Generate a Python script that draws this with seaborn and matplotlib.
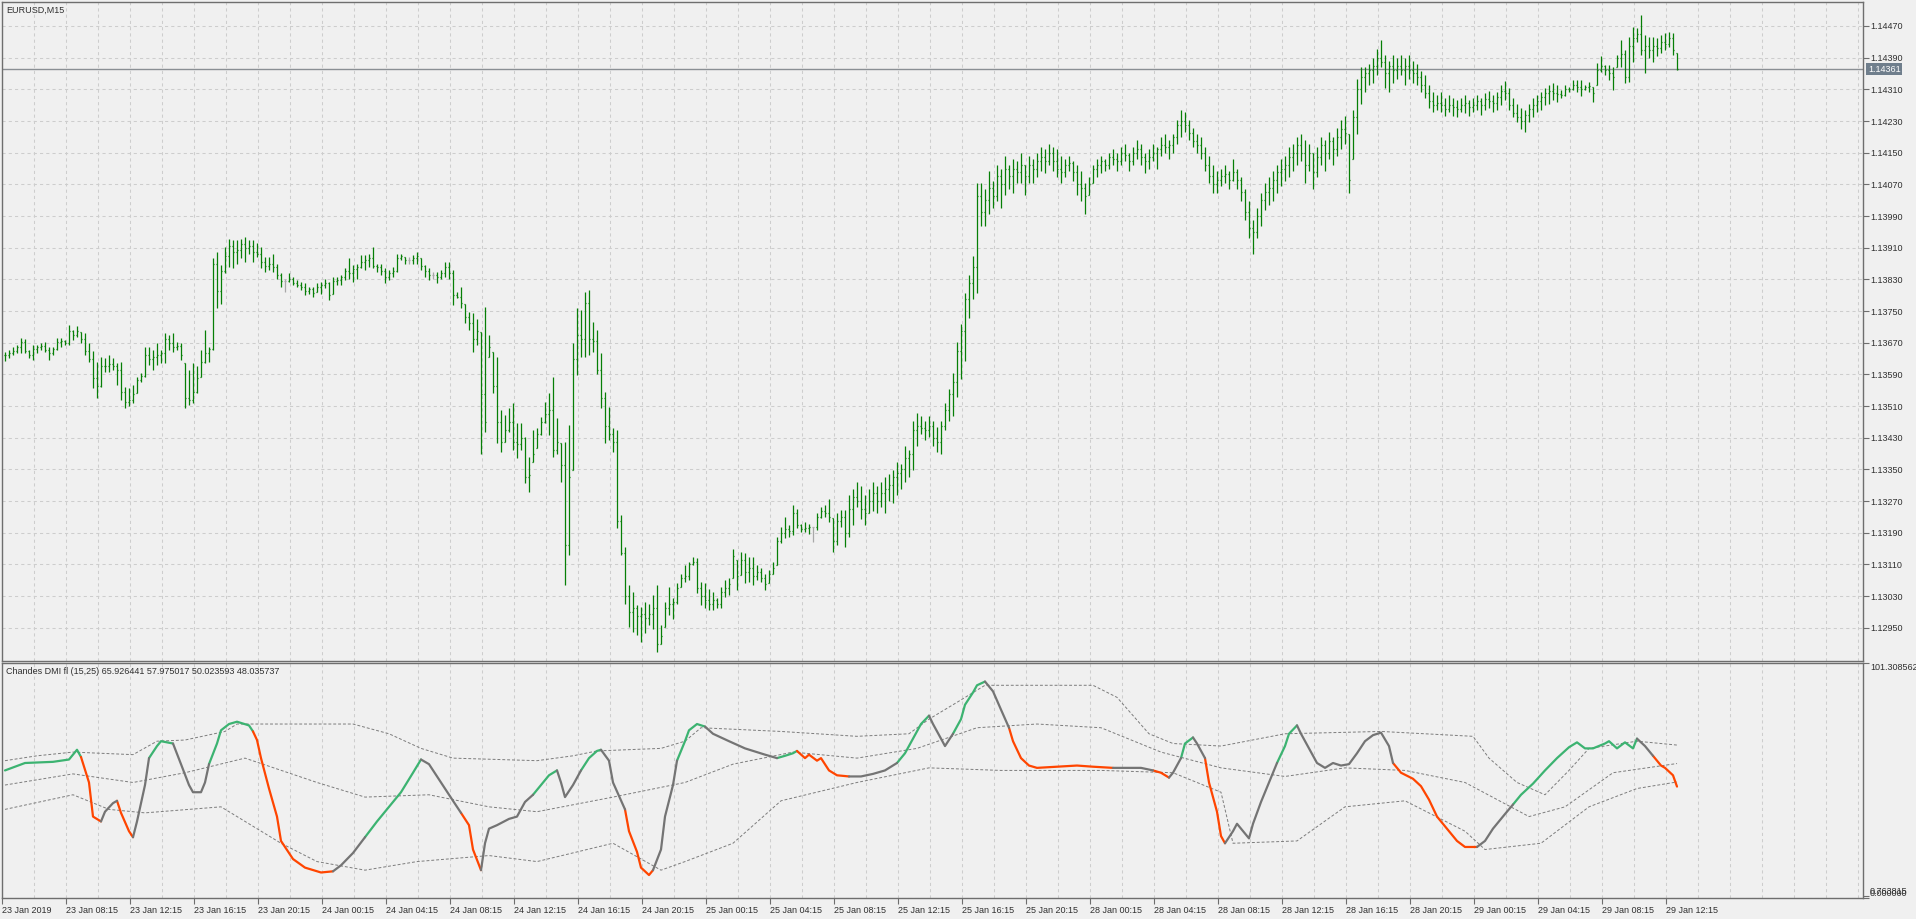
import numpy as np
import pandas as pd
import seaborn as sns
import matplotlib.pyplot as plt
import matplotlib.transforms as mtransforms

# picture size in pixels
W, H = 1916, 919
BG = "#f0f0f0"
BAR_GREEN = "#067f06"
DOJI_GREY = "#a8a8a8"
FRAME = "#6e6e6e"
GRID = "#cdcdcd"
TEXT = "#303030"

# EURUSD M15 bars, prices in points above 1.10000 (3640 -> 1.13640)
HIGH = [
    3647, 3652, 3660, 3664, 3681, 3679, 3652, 3664, 3664, 3670,
    3673, 3660, 3660, 3681, 3681, 3677, 3715, 3702, 3712, 3698,
    3694, 3669, 3648, 3622, 3635, 3631, 3639, 3631, 3618, 3622,
    3559, 3555, 3563, 3584, 3593, 3660, 3660, 3652, 3669, 3652,
    3694, 3690, 3694, 3673, 3669, 3618, 3601, 3618, 3610, 3652,
    3702, 3660, 3883, 3900, 3866, 3912, 3932, 3929, 3929, 3933,
    3938, 3929, 3929, 3921, 3912, 3887, 3887, 3895, 3870, 3845,
    3832, 3845, 3836, 3828, 3824, 3820, 3811, 3811, 3820, 3824,
    3832, 3824, 3836, 3836, 3841, 3858, 3883, 3866, 3870, 3891,
    3891, 3895, 3912, 3870, 3870, 3858, 3853, 3862, 3895, 3895,
    3887, 3887, 3891, 3900, 3883, 3866, 3858, 3849, 3849, 3853,
    3875, 3875, 3853, 3799, 3811, 3769, 3748, 3744, 3731, 3698,
    3761, 3689, 3647, 3635, 3500, 3487, 3504, 3517, 3466, 3466,
    3432, 3382, 3449, 3454, 3483, 3521, 3542, 3584, 3479, 3416,
    3420, 3462, 3668, 3757, 3752, 3799, 3803, 3723, 3702, 3643,
    3546, 3508, 3454, 3449, 3235, 3155, 3058, 3041, 3007, 3003,
    3016, 3011, 3032, 3058, 2957, 3016, 3053, 3024, 3062, 3087,
    3108, 3117, 3129, 3125, 3066, 3062, 3049, 3041, 3024, 3053,
    3070, 3075, 3150, 3121, 3142, 3138, 3129, 3129, 3108, 3100,
    3087, 3096, 3117, 3180, 3205, 3230, 3209, 3261, 3251, 3213,
    3218, 3213, 3205, 3239, 3256, 3260, 3275, 3226, 3239, 3247,
    3247, 3286, 3301, 3317, 3307, 3286, 3301, 3317, 3307, 3317,
    3332, 3338, 3348, 3369, 3363, 3409, 3400, 3471, 3493, 3486,
    3471, 3486, 3471, 3456, 3471, 3517, 3554, 3594, 3672, 3718,
    3795, 3841, 3888, 4073, 4073, 4057, 4104, 4079, 4119, 4110,
    4141, 4119, 4135, 4129, 4150, 4119, 4141, 4135, 4150, 4165,
    4159, 4172, 4165, 4159, 4141, 4135, 4141, 4129, 4119, 4104,
    4073, 4088, 4119, 4135, 4141, 4135, 4150, 4159, 4150, 4165,
    4172, 4150, 4165, 4181, 4172, 4150, 4159, 4172, 4165, 4190,
    4196, 4181, 4196, 4233, 4258, 4252, 4233, 4212, 4196, 4190,
    4165, 4141, 4119, 4104, 4110, 4119, 4104, 4135, 4110, 4088,
    4057, 4027, 3980, 4011, 4048, 4073, 4088, 4104, 4119, 4135,
    4141, 4165, 4172, 4190, 4196, 4181, 4172, 4150, 4165, 4190,
    4181, 4203, 4190, 4212, 4233, 4243, 4196, 4258, 4335, 4366,
    4366, 4375, 4388, 4412, 4434, 4397, 4382, 4397, 4388, 4397,
    4388, 4397, 4382, 4375, 4357, 4345, 4320, 4304, 4295, 4304,
    4289, 4295, 4289, 4283, 4289, 4295, 4283, 4289, 4295, 4289,
    4301, 4307, 4295, 4304, 4320, 4332, 4314, 4289, 4274, 4264,
    4258, 4274, 4289, 4295, 4304, 4314, 4320, 4326, 4320, 4308,
    4321, 4317, 4334, 4334, 4334, 4321, 4329, 4317, 4376, 4393,
    4372, 4372, 4367, 4397, 4435, 4409, 4443, 4468, 4464, 4498,
    4447, 4443, 4443, 4439, 4447, 4452, 4456, 4452, 4401,
]
LOW = [
    3625, 3631, 3639, 3643, 3643, 3645, 3631, 3626, 3643, 3652,
    3647, 3626, 3639, 3652, 3660, 3664, 3664, 3677, 3685, 3669,
    3639, 3622, 3555, 3530, 3559, 3597, 3597, 3601, 3563, 3525,
    3504, 3509, 3517, 3542, 3572, 3584, 3614, 3601, 3614, 3618,
    3618, 3652, 3647, 3652, 3626, 3504, 3513, 3517, 3542, 3584,
    3618, 3622, 3651, 3757, 3769, 3845, 3862, 3858, 3870, 3883,
    3874, 3895, 3874, 3887, 3858, 3849, 3853, 3849, 3832, 3811,
    3799, 3824, 3815, 3811, 3803, 3790, 3794, 3786, 3799, 3794,
    3807, 3778, 3794, 3815, 3815, 3828, 3832, 3824, 3832, 3858,
    3853, 3862, 3858, 3849, 3841, 3820, 3828, 3836, 3849, 3879,
    3870, 3870, 3870, 3870, 3853, 3837, 3828, 3832, 3820, 3832,
    3837, 3832, 3765, 3782, 3757, 3719, 3702, 3647, 3664, 3390,
    3445, 3635, 3542, 3416, 3395, 3420, 3445, 3399, 3378, 3399,
    3315, 3294, 3369, 3403, 3437, 3466, 3437, 3382, 3390, 3319,
    3058, 3134, 3348, 3588, 3635, 3635, 3639, 3647, 3592, 3504,
    3416, 3424, 3395, 3201, 3134, 3011, 2953, 2940, 2931, 2915,
    2936, 2957, 2948, 2889, 2910, 2952, 2982, 2973, 3011, 3053,
    3066, 3070, 3108, 3037, 3007, 2999, 2995, 2995, 2999, 2999,
    3028, 3032, 3075, 3045, 3083, 3062, 3066, 3058, 3070, 3066,
    3045, 3062, 3087, 3108, 3163, 3176, 3180, 3184, 3201, 3192,
    3192, 3188, 3167, 3197, 3226, 3230, 3218, 3142, 3159, 3205,
    3155, 3178, 3209, 3255, 3224, 3209, 3240, 3246, 3240, 3255,
    3240, 3270, 3264, 3286, 3301, 3317, 3332, 3348, 3409, 3440,
    3425, 3431, 3409, 3394, 3388, 3450, 3471, 3486, 3533, 3579,
    3625, 3733, 3780, 3795, 3965, 3965, 3996, 4011, 4027, 4011,
    4042, 4057, 4048, 4073, 4073, 4042, 4073, 4073, 4088, 4104,
    4098, 4119, 4104, 4088, 4073, 4088, 4104, 4079, 4042, 4027,
    3996, 4042, 4073, 4088, 4098, 4104, 4110, 4119, 4104, 4119,
    4129, 4104, 4119, 4135, 4119, 4098, 4110, 4129, 4110, 4141,
    4150, 4135, 4150, 4172, 4190, 4203, 4181, 4165, 4150, 4135,
    4104, 4073, 4048, 4048, 4067, 4073, 4057, 4079, 4057, 4027,
    3980, 3934, 3894, 3934, 3965, 4005, 4017, 4027, 4048, 4067,
    4079, 4088, 4104, 4119, 4129, 4073, 4104, 4057, 4088, 4119,
    4104, 4135, 4119, 4141, 4159, 4172, 4048, 4135, 4196, 4274,
    4304, 4320, 4326, 4345, 4366, 4314, 4304, 4326, 4335, 4345,
    4320, 4335, 4326, 4320, 4304, 4289, 4264, 4252, 4258, 4252,
    4243, 4252, 4243, 4240, 4252, 4249, 4243, 4252, 4258, 4246,
    4258, 4264, 4252, 4258, 4271, 4283, 4258, 4240, 4227, 4209,
    4203, 4227, 4240, 4252, 4258, 4271, 4274, 4283, 4277, 4287,
    4292, 4304, 4308, 4304, 4292, 4308, 4304, 4279, 4321, 4355,
    4346, 4334, 4308, 4367, 4367, 4325, 4329, 4380, 4430, 4397,
    4350, 4388, 4380, 4393, 4401, 4409, 4418, 4397, 4359,
]
CLOSE = [
    3640, 3645, 3650, 3658, 3672, 3650, 3638, 3655, 3660, 3662,
    3652, 3645, 3655, 3672, 3675, 3668, 3700, 3690, 3700, 3680,
    3650, 3630, 3580, 3560, 3610, 3612, 3615, 3612, 3600, 3545,
    3520, 3525, 3540, 3575, 3585, 3640, 3630, 3635, 3640, 3645,
    3680, 3670, 3660, 3662, 3640, 3530, 3525, 3545, 3580, 3620,
    3645, 3655, 3870, 3800, 3850, 3890, 3915, 3900, 3905, 3920,
    3910, 3915, 3900, 3895, 3875, 3865, 3870, 3860, 3840, 3825,
    3825, 3830, 3820, 3815, 3810, 3800, 3805, 3795, 3810, 3815,
    3820, 3790, 3825, 3828, 3835, 3850, 3845, 3855, 3860, 3875,
    3880, 3885, 3865, 3860, 3850, 3835, 3845, 3850, 3885, 3888,
    3880, 3880, 3885, 3890, 3865, 3850, 3840, 3840, 3836, 3845,
    3860, 3845, 3790, 3786, 3770, 3735, 3720, 3680, 3700, 3540,
    3470, 3660, 3560, 3470, 3420, 3450, 3470, 3420, 3415, 3430,
    3330, 3335, 3390, 3440, 3470, 3490, 3500, 3400, 3420, 3360,
    3160, 3330, 3630, 3690, 3680, 3770, 3680, 3675, 3600, 3530,
    3460, 3440, 3420, 3220, 3140, 3030, 2990, 3000, 2980, 2985,
    2975, 2985, 3000, 2910, 2930, 3000, 3010, 3015, 3050, 3075,
    3080, 3110, 3115, 3050, 3030, 3020, 3010, 3020, 3010, 3040,
    3050, 3060, 3130, 3080, 3120, 3090, 3100, 3080, 3090, 3075,
    3060, 3085, 3100, 3170, 3190, 3200, 3195, 3240, 3210, 3200,
    3202, 3205, 3205, 3230, 3245, 3240, 3230, 3170, 3220, 3230,
    3190, 3250, 3280, 3270, 3250, 3240, 3270, 3290, 3270, 3290,
    3300, 3310, 3330, 3340, 3350, 3380, 3390, 3450, 3460, 3455,
    3450, 3460, 3430, 3420, 3460, 3500, 3540, 3570, 3650, 3700,
    3780, 3820, 3860, 4040, 4000, 4030, 4060, 4040, 4090, 4070,
    4110, 4090, 4110, 4100, 4120, 4090, 4120, 4110, 4130, 4140,
    4130, 4150, 4130, 4110, 4100, 4120, 4125, 4100, 4070, 4060,
    4040, 4070, 4110, 4120, 4130, 4120, 4140, 4135, 4130, 4150,
    4145, 4130, 4150, 4160, 4140, 4130, 4140, 4150, 4160, 4170,
    4165, 4170, 4190, 4220, 4230, 4220, 4200, 4180, 4170, 4150,
    4120, 4090, 4070, 4080, 4090, 4095, 4080, 4100, 4080, 4050,
    4000, 3960, 3950, 3990, 4030, 4050, 4060, 4080, 4100, 4110,
    4120, 4140, 4150, 4170, 4150, 4120, 4150, 4100, 4140, 4170,
    4150, 4180, 4160, 4190, 4210, 4200, 4080, 4240, 4310, 4340,
    4350, 4360, 4370, 4390, 4380, 4350, 4370, 4360, 4370, 4360,
    4370, 4360, 4350, 4340, 4320, 4300, 4280, 4270, 4275, 4270,
    4260, 4270, 4265, 4260, 4270, 4275, 4265, 4270, 4280, 4270,
    4285, 4280, 4275, 4290, 4305, 4300, 4270, 4250, 4240, 4230,
    4245, 4260, 4270, 4280, 4290, 4300, 4305, 4300, 4298, 4295,
    4310, 4312, 4320, 4315, 4310, 4315, 4318, 4300, 4360, 4370,
    4360, 4350, 4340, 4390, 4400, 4340, 4420, 4440, 4450, 4410,
    4420, 4410, 4420, 4415, 4430, 4425, 4440, 4410, 4361,
]
DOJI_BARS = [70, 101, 107, 202]
LAST_PRICE = 1.14361

TIME_LABELS = [
    "23 Jan 2019", "23 Jan 08:15", "23 Jan 12:15", "23 Jan 16:15", "23 Jan 20:15",
    "24 Jan 00:15", "24 Jan 04:15", "24 Jan 08:15", "24 Jan 12:15", "24 Jan 16:15",
    "24 Jan 20:15", "25 Jan 00:15", "25 Jan 04:15", "25 Jan 08:15", "25 Jan 12:15",
    "25 Jan 16:15", "25 Jan 20:15", "28 Jan 00:15", "28 Jan 04:15", "28 Jan 08:15",
    "28 Jan 12:15", "28 Jan 16:15", "28 Jan 20:15", "29 Jan 00:15", "29 Jan 04:15",
    "29 Jan 08:15", "29 Jan 12:15",
]

# Chandes DMI floating levels: main line (bar, value, state g=up o=down n=neutral)
DMI_BAR = [
    0, 5, 12, 16, 18, 19, 21, 22, 24, 25, 27, 28, 29, 31, 32, 33, 35, 36, 38, 39,
    42, 44, 46, 47, 49, 50, 51, 53, 54, 56, 58, 61, 62, 63, 64, 66, 68, 69, 72, 75,
    79, 82, 84, 87, 90, 93, 96, 99, 102, 104, 106, 109, 112, 114, 116, 117, 119, 120, 121, 123,
    126, 128, 130, 132, 134, 136, 138, 139, 140, 142, 144, 146, 148, 149, 151, 152, 155, 156, 158, 159,
    161, 162, 164, 165, 167, 168, 170, 171, 173, 175, 177, 181, 185, 190, 193, 195, 197, 198, 200, 201,
    203, 204, 206, 208, 211, 214, 217, 220, 223, 225, 227, 229, 231, 232, 234, 235, 237, 239, 240, 242,
    243, 245, 247, 249, 251, 252, 254, 256, 258, 263, 268, 272, 277, 280, 284, 287, 289, 291, 292, 294,
    295, 297, 298, 300, 301, 303, 304, 305, 307, 308, 309, 311, 312, 314, 316, 318, 320, 321, 323, 324,
    326, 328, 330, 332, 334, 336, 338, 340, 342, 344, 346, 347, 349, 352, 354, 356, 358, 361, 363, 365,
    368, 370, 372, 375, 377, 379, 382, 385, 388, 391, 393, 395, 397, 400, 401, 403, 405, 407, 408, 410,
    412, 414, 415, 417, 418,
]
DMI_VAL = [
    55.0, 58.2, 58.7, 59.7, 63.9, 60.8, 49.8, 35.1, 33.0, 37.2, 40.9, 41.9, 36.7, 28.8, 26.2, 33.0, 48.7, 60.3, 65.5, 67.6,
    66.6, 57.7, 48.7, 45.6, 45.6, 49.8, 57.7, 66.6, 72.3, 75.0, 76.0, 74.4, 71.8, 68.1, 60.3, 47.2, 35.1, 24.6, 16.8, 13.1,
    11.0, 11.5, 14.1, 19.4, 26.2, 33.0, 39.3, 45.6, 54.0, 59.7, 57.7, 49.8, 41.9, 36.7, 31.4, 20.9, 12.0, 23.6, 29.9, 31.4,
    34.1, 35.1, 41.4, 44.5, 48.7, 52.9, 55.0, 49.8, 43.5, 48.7, 55.0, 60.3, 63.4, 63.9, 59.2, 49.8, 38.2, 28.8, 19.9, 13.1,
    9.9, 12.0, 20.9, 35.1, 48.7, 59.2, 67.6, 72.3, 75.0, 73.9, 70.8, 67.6, 64.5, 61.8, 60.3, 61.3, 62.4, 63.4, 60.3, 61.8,
    59.2, 60.3, 55.0, 52.9, 52.4, 52.4, 53.5, 55.0, 58.2, 62.4, 68.7, 75.0, 78.6, 75.0, 68.7, 65.5, 70.8, 77.1, 83.3, 88.6,
    91.7, 93.3, 89.1, 81.2, 73.4, 67.6, 60.3, 57.1, 56.1, 56.6, 57.1, 56.6, 56.1, 56.1, 56.1, 55.0, 54.0, 51.9, 54.0, 60.3,
    66.6, 69.2, 66.6, 60.3, 49.8, 37.2, 26.7, 23.6, 28.8, 32.0, 29.9, 25.7, 32.0, 41.4, 49.8, 58.2, 65.5, 70.8, 74.4, 70.8,
    64.5, 58.2, 56.1, 58.2, 57.1, 57.7, 62.4, 67.6, 70.2, 71.3, 65.5, 58.2, 54.0, 51.4, 48.2, 42.4, 35.1, 28.8, 24.6, 22.0,
    22.0, 24.6, 29.9, 36.2, 40.3, 44.5, 49.3, 55.0, 60.3, 65.0, 67.1, 64.5, 64.5, 66.6, 67.6, 64.5, 67.1, 64.5, 68.7, 65.5,
    61.3, 57.1, 56.1, 52.9, 48.035737,
]
DMI_STATE = (
    "gggggg" "ooo" "nnn" "ooo" "nnn" "ggg" "nnnnnn" "gggggg" "ooooooooo" "nnn" "ggggg"
    "nnnn" "ooo" "nnnnnnn" "ggg" "nnnn" "ggg" "nnn" "ooooo" "nnnn" "gggg" "nnnnn" "ggg"
    "ooooooo" "nnnn" "gggg" "nnnn" "ggggg" "nnn" "oooooooo" "nnn" "oo" "nn" "gg" "nn"
    "oooo" "nnnnnnnn" "ggg" "nnnnnnnnnnnnn" "ooooooooo" "nnnn" "gggggggggggggg" "nn" "oooo"
)

# floating levels (bar, value)
UP_BAR = [0, 8, 17, 32, 38, 45, 55, 58, 87, 96, 104, 112, 133, 142, 148, 164, 170, 174, 194, 213,
          226, 231, 239, 245, 272, 278, 286, 292, 304, 320, 344, 367, 371, 378, 385, 391, 396, 408, 418]
UP_VAL = [59.2, 61.3, 62.9, 61.8, 67.6, 68.1, 71.8, 75.0, 75.0, 70.8, 64.5, 60.3, 59.2, 61.3, 63.4, 64.5,
          67.6, 73.4, 71.8, 69.7, 70.8, 77.1, 85.4, 91.7, 91.7, 86.5, 70.8, 66.6, 65.5, 70.8, 71.8, 69.7,
          60.3, 49.8, 44.5, 55.0, 64.5, 67.6, 65.926441]
MID_BAR = [0, 17, 32, 45, 60, 78, 90, 106, 121, 133, 152, 170, 182, 197, 213, 228, 243, 258, 274, 289,
           304, 320, 335, 350, 365, 381, 390, 402, 418]
MID_VAL = [48.7, 53.5, 49.8, 54.0, 60.3, 49.8, 43.5, 44.5, 39.3, 37.2, 43.5, 49.8, 57.7, 62.9, 60.3,
           64.5, 73.4, 75.0, 73.4, 62.9, 56.1, 52.4, 56.1, 55.0, 49.8, 35.1, 39.3, 54.0, 57.975017]
DN_BAR = [0, 17, 26, 35, 54, 69, 78, 90, 103, 121, 133, 152, 164, 170, 182, 194, 213, 231, 249, 274,
          292, 304, 307, 323, 335, 350, 365, 370, 384, 396, 408, 418]
DN_VAL = [38.2, 44.5, 38.2, 36.7, 39.3, 23.6, 15.7, 12.0, 15.7, 18.3, 15.7, 23.6, 12.0, 15.7, 23.6,
          41.9, 49.8, 56.1, 55.0, 55.0, 54.0, 45.6, 23.6, 24.6, 39.3, 41.9, 28.8, 20.9, 23.6, 39.3,
          47.2, 50.023593]
DMI_MAX, DMI_MIN_SHOWN = 101.308562, 0.763815

STATE_COLORS = {"g": "#3cb371", "o": "#ff4500", "n": "#747474"}

sns.set_style("ticks")
plt.rcParams["font.family"] = ["Liberation Sans", "DejaVu Sans"]
plt.rcParams["font.size"] = 6.5

fig = plt.figure(figsize=(W / 100, H / 100), dpi=100, facecolor=BG)
# panes in pixel boxes
ax1 = fig.add_axes([2 / W, 1 - 661 / H, 1861 / W, 659 / H])
ax2 = fig.add_axes([2 / W, 1 - 898 / H, 1861 / W, 235 / H])

x_left, x_right = -0.75, 464.5
grid_pos = np.arange(-0.75 + 8, x_right, 8)
label_pos = [x_left] + list(15.25 + 16 * np.arange(len(TIME_LABELS) - 1))
grid_kw = dict(color=GRID, linestyle=(0, (3, 3)), linewidth=0.75)

for ax in (ax1, ax2):
    ax.set_facecolor(BG)
    for s in ax.spines.values():
        s.set_color(FRAME)
        s.set_linewidth(1.0)
    ax.set_xlim(x_left, x_right)
    for gx in grid_pos:
        ax.axvline(gx, zorder=0, **grid_kw)

# ---- price pane
bars = np.arange(len(CLOSE))
hi = 1.1 + np.array(HIGH) / 1e5
lo = 1.1 + np.array(LOW) / 1e5
cl = 1.1 + np.array(CLOSE) / 1e5
op = np.clip(np.r_[cl[0], cl[:-1]], lo, hi)
cols = [DOJI_GREY if b in DOJI_BARS else BAR_GREEN for b in bars]
bar_kw = dict(colors=cols, lw=0.9, zorder=3)
ax1.vlines(bars, lo, hi, **bar_kw)
ax1.hlines(op, bars - 0.35, bars, **bar_kw)
ax1.hlines(cl, bars, bars + 0.35, **bar_kw)

price_ticks = np.round(np.arange(1.12950, 1.14471, 0.0008), 5)
for py in price_ticks:
    ax1.axhline(py, zorder=0, **grid_kw)
ax1.axhline(LAST_PRICE, color="#8a8f94", lw=1.0, zorder=2)
ax1.set_ylim(1.128660, 1.145306)
ax1.yaxis.tick_right()
ax1.set_yticks(price_ticks)
ax1.set_yticklabels([f"{p:.5f}" for p in price_ticks])
ax1.tick_params(axis="y", direction="out", length=4, width=0.8, color=FRAME,
                labelcolor=TEXT, labelsize=6.5, pad=1)
ax1.tick_params(axis="x", length=0, labelbottom=False)
ax1.set_xticks([])

off = mtransforms.ScaledTranslation(5 / 100, 0, fig.dpi_scale_trans)
trans = mtransforms.blended_transform_factory(ax1.transAxes, ax1.transData) + off
ax1.text(1.0, LAST_PRICE, f"{LAST_PRICE:.5f}", transform=trans, ha="left", va="center",
         color="white", fontsize=6.5,
         bbox=dict(boxstyle="square,pad=0.2", fc="#6f7e8c", ec="none"))

# ---- indicator pane
for b, v in ((UP_BAR, UP_VAL), (MID_BAR, MID_VAL), (DN_BAR, DN_VAL)):
    sns.lineplot(x=b, y=v, ax=ax2, color="#7c7c7c", lw=0.7, linestyle=(0, (3, 2)), zorder=2)

rows = []
run = 0
for j in range(1, len(DMI_BAR)):
    st = DMI_STATE[j]
    if j == 1 or st != DMI_STATE[j - 1]:
        run += 1
        rows.append((run, st, DMI_BAR[j - 1], DMI_VAL[j - 1]))
    rows.append((run, st, DMI_BAR[j], DMI_VAL[j]))
seg = pd.DataFrame(rows, columns=["run", "state", "bar", "val"])
sns.lineplot(data=seg, x="bar", y="val", hue="state", units="run", estimator=None, sort=False,
             palette=STATE_COLORS, lw=1.6, legend=False, ax=ax2, zorder=4)

ax2.set_xlim(x_left, x_right)
ax2.set_ylim(0, DMI_MAX)
ax2.axhline(0, zorder=0, **grid_kw)
ax2.set_xlabel("")
ax2.set_ylabel("")
ax2.yaxis.tick_right()
ax2.set_yticks([0.0, DMI_MIN_SHOWN, DMI_MAX])
ylabs = ax2.set_yticklabels(["0.000000", f"{DMI_MIN_SHOWN:.6f}", f"{DMI_MAX:.6f}"])
ylabs[0].set_va("bottom")
ylabs[1].set_va("bottom")
ylabs[2].set_va("top")
ax2.tick_params(axis="y", direction="out", length=4, width=0.8, color=FRAME,
                labelcolor=TEXT, labelsize=6.5, pad=1)
ax2.set_xticks(label_pos)
xlabs = ax2.set_xticklabels(TIME_LABELS)
for t in xlabs:
    t.set_ha("left")
ax2.tick_params(axis="x", direction="out", length=4, width=0.8, color=FRAME,
                labelcolor=TEXT, labelsize=6.5, pad=1.5)

fig.text(6 / W, 1 - 10 / H, "EURUSD,M15", fontsize=6.5, color=TEXT, va="center", ha="left")
fig.text(6 / W, 1 - 672 / H,
         "Chandes DMI fl (15,25) 65.926441 57.975017 50.023593 48.035737",
         fontsize=6.5, color=TEXT, va="center", ha="left")

fig.savefig("out.png", dpi=100, facecolor=BG)
